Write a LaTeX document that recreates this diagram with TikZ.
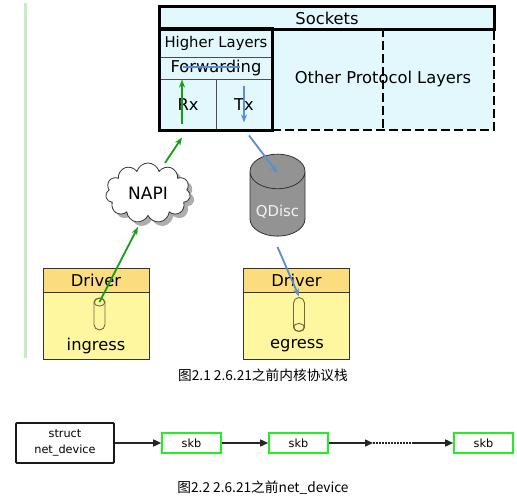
\documentclass[tikz,border=0pt]{standalone}
\usepackage{fontspec}
\setmainfont{DejaVu Sans}
\newfontfamily\cjk{Noto Sans CJK SC}
\usetikzlibrary{positioning,shapes.geometric,shapes.symbols,shadows,arrows.meta}

\definecolor{stackfill}{HTML}{E2F8FC}
\definecolor{drvhead}{HTML}{FBDD80}
\definecolor{drvbody}{HTML}{FFF7A0}
\definecolor{rxgreen}{HTML}{14A014}
\definecolor{txblue}{HTML}{5A8ED2}
\definecolor{skbgreen}{HTML}{22EE22}
\definecolor{pipeline}{HTML}{6E6A3C}
\definecolor{sidebar}{HTML}{C8EBC8}

\tikzset{
  layer/.style={draw=gray!60!black, line width=0.9pt, fill=stackfill, inner sep=0pt, font=\fontsize{16.3}{18}\selectfont},
  heavy/.style={draw=black, line width=2.5pt},
  drvbox/.style={draw=gray!40!black, line width=0.8pt, inner sep=0pt, minimum width=106pt, font=\fontsize{16.3}{18}\selectfont},
  pipe/.style={rectangle, rounded corners=5.5pt, draw=pipeline, line width=0.9pt, fill=drvbody, minimum height=32pt, minimum width=11pt, inner sep=0pt},
  rxarrow/.style={draw=rxgreen, line width=1.8pt, -{Stealth[length=8pt,width=6pt]}},
  txarrow/.style={draw=txblue, line width=1.8pt, -{Stealth[length=8pt,width=6pt]}},
  listbox/.style={draw=skbgreen, line width=1.6pt, fill=white, minimum width=59pt, minimum height=20pt, inner sep=0pt, font=\fontsize{11.3}{13}\selectfont},
  link/.style={draw=black!85, line width=1.5pt, -{Triangle[length=8pt,width=7pt]}},
  caption/.style={font=\cjk\fontsize{13.7}{15}\selectfont}
}

\begin{document}
\begin{tikzpicture}[x=1pt,y=-1pt]
\useasboundingbox (0,0) rectangle (517,500);

% side bar on the left
\draw[sidebar, line width=3pt] (25.5,3) -- (25.5,358);

% protocol stack - other layers first, solid borders on top
\node[layer, heavy, dash pattern=on 9pt off 4pt, minimum width=222pt, minimum height=101pt] (other) at (383,79.5) {Other Protocol Layers};
\draw[heavy, dash pattern=on 9pt off 4pt] (other.north) -- (other.south);
\node[layer, minimum width=334pt, minimum height=22pt] (sockets) at (327,18) {Sockets};
\node[layer, font=\fontsize{14.8}{17}\selectfont, minimum width=112pt, minimum height=28pt] (higher) at (216,43) {Higher Layers};
\node[layer, minimum width=112pt, minimum height=22pt] (fwd) at (216,68) {Forwarding};
\node[layer, minimum width=56pt, minimum height=51pt] (rx) at (188,104.5) {Rx};
\node[layer, minimum width=56pt, minimum height=51pt] (tx) at (244,104.5) {Tx};
\draw[heavy] (sockets.north west) rectangle (sockets.south east);
\draw[heavy] (higher.north west) rectangle (tx.south east);

% Rx up, Tx down
\draw[rxarrow] ([xshift=-6pt,yshift=6pt]rx.south) -- ([xshift=-6pt,yshift=-1pt]rx.north);
\draw[txblue, line width=1.8pt] ([xshift=-33pt,yshift=1pt]fwd.center) -- ([xshift=24pt,yshift=1pt]fwd.center);
\draw[txarrow] ([yshift=-7pt]tx.north) -- ([yshift=8pt]tx.south);

% NAPI cloud
\node[cloud, cloud puffs=11, aspect=1.5, draw=black!80, line width=0.8pt, fill=white, minimum width=85pt, minimum height=60pt, inner sep=0pt,
  drop shadow={fill=gray!80, opacity=0.8, shadow xshift=4pt, shadow yshift=-4pt}, font=\fontsize{17}{19}\selectfont] (napi) at (148,193) {NAPI};

% QDisc
\node[cylinder, shape border rotate=90, aspect=0.8, draw=black!80, line width=0.8pt, fill=gray!85!white, minimum width=55pt, minimum height=82pt, inner sep=0pt,
  text=gray!10, font=\fontsize{14.9}{17}\selectfont] (qdisc) at (277.5,204) {\raisebox{-13pt}[0pt][0pt]{QDisc}};

% ingress driver
\node[drvbox, fill=drvhead, minimum height=24pt] (ldrvhead) at (96,280) {Driver};
\node[drvbox, fill=drvbody, minimum height=67pt, below=0pt of ldrvhead] (ldrvbody) {};
\node[pipe] (inpipe) at (99.5,314) {};
\draw[pipeline, line width=0.9pt] ([yshift=-4.5pt]inpipe.north) ellipse (5.5pt and 4pt);
\node[font=\fontsize{16.3}{18}\selectfont, anchor=base] (ingress) at (96,350) {ingress};

% egress driver
\node[drvbox, fill=drvhead, minimum height=24pt] (rdrvhead) at (296.5,280) {Driver};
\node[drvbox, fill=drvbody, minimum height=67pt, below=0pt of rdrvhead] (rdrvbody) {};
\node[pipe, minimum height=34pt] (outpipe) at (299,314.5) {};
\draw[pipeline, line width=0.9pt] ([yshift=4.5pt]outpipe.south) ellipse (5.5pt and 4pt);
\node[font=\fontsize{16.3}{18}\selectfont, anchor=base] (egress) at (297,348) {egress};

% packet paths
\draw[rxarrow] ([yshift=12pt]inpipe.center) -- ([xshift=-10pt,yshift=-34pt]napi.center);
\draw[rxarrow] ([xshift=17pt,yshift=30pt]napi.center) -- ([xshift=-6pt,yshift=-7pt]rx.south);
\draw[txarrow] ([xshift=5pt,yshift=-5pt]tx.south) -- ([yshift=31pt]qdisc.center);
\draw[txarrow] ([yshift=-43pt]qdisc.center) -- ([yshift=18pt]outpipe.center);

\node[caption] (cap1) at (263,375) {图2.1 2.6.21之前内核协议栈};

% net_device queue
\node[draw=black!90, line width=1.8pt, minimum width=98pt, minimum height=40pt, align=center, rounded corners=1pt, font=\fontsize{11.3}{16.5}\selectfont] (netdev) at (65,443) {struct\\net\_device};
\node[listbox] (skb1) at (191.5,443) {skb};
\node[listbox] (skb2) at (298.5,443) {skb};
\node[listbox] (skb3) at (483.5,443) {skb};
\coordinate (gapa) at (373,443);
\coordinate (gapb) at (414,443);
\draw[link] (netdev) -- (skb1);
\draw[link] (skb1) -- (skb2);
\draw[link] (skb2) -- (gapa);
\draw[black!85, line width=1.5pt, dash pattern=on 1.5pt off 1.5pt] (gapa) -- (gapb);
\draw[link] (gapb) -- (skb3);

\node[caption] (cap2) at (263,488) {图2.2 2.6.21之前net\_device};

\end{tikzpicture}
\end{document}
